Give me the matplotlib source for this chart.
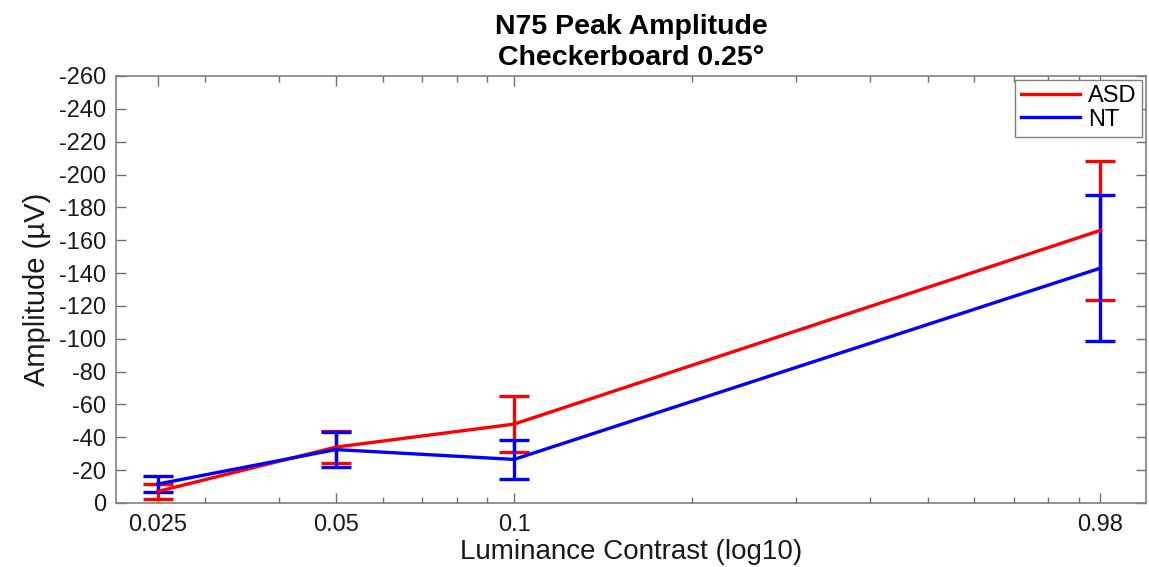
import matplotlib
matplotlib.use('Agg')
import matplotlib.pyplot as plt
from matplotlib.ticker import FixedLocator, NullFormatter

plt.rcParams['font.family'] = ['Liberation Sans', 'DejaVu Sans']
plt.rcParams['axes.unicode_minus'] = False

# contrast levels and N75 amplitude (uV) per group
contrast = [0.025, 0.05, 0.1, 0.98]
asd_mean = [-7, -34, -48, -166]
asd_err = [4.5, 9.5, 17, 42.5]
nt_mean = [-11.5, -32.5, -26.5, -143]
nt_err = [5, 10.5, 11.7, 44.5]

tick_labels = ['0.025', '0.05', '0.1', '0.98']
minor_ticks = [0.03, 0.04, 0.06, 0.07, 0.08, 0.09, 0.2, 0.3, 0.4, 0.5, 0.6, 0.7, 0.8, 0.9]

fig = plt.figure(figsize=(11.49, 5.67), dpi=100)
ax = fig.add_axes([0.101, 0.113, 0.8964, 0.753])

ax.errorbar(contrast, asd_mean, yerr=asd_err, color='#ff0000', lw=2.4,
            capsize=11, capthick=2.4)
ax.errorbar(contrast, nt_mean, yerr=nt_err, color='#0000ff', lw=2.4,
            capsize=11, capthick=2.4)
# plain lines just for the legend
ax.plot([], [], color='#ff0000', lw=2.4, label='ASD')
ax.plot([], [], color='#0000ff', lw=2.4, label='NT')

ax.set_xscale('log')
ax.set_xlim(0.02125, 1.17)
ax.set_xticks(contrast)
ax.set_xticklabels(tick_labels)
ax.xaxis.set_minor_locator(FixedLocator(minor_ticks))
ax.xaxis.set_minor_formatter(NullFormatter())

ax.set_ylim(0, -260)
ax.set_yticks(range(0, -261, -20))

ax.tick_params(which='both', direction='in', top=True, right=True,
               color='#707070', labelsize=17, labelcolor='#1a1a1a')
ax.tick_params(which='major', length=7, width=1)
ax.tick_params(which='minor', length=4, width=1)
ax.tick_params(axis='x', pad=8)
ax.tick_params(axis='y', pad=7)
for s in ax.spines.values():
    s.set_color('#808080')
    s.set_linewidth(1.2)

ax.set_xlabel('Luminance Contrast (log10)', fontsize=20, color='#1a1a1a', labelpad=2)
ax.set_ylabel('Amplitude (µV)', fontsize=21, color='#1a1a1a', labelpad=6)
ax.set_title('N75 Peak Amplitude\nCheckerboard 0.25°', fontsize=20.5,
             fontweight='bold', linespacing=1.25, pad=8)

leg = ax.legend(loc='upper right', fontsize=17, fancybox=False, framealpha=1,
                edgecolor='#808080', handlelength=2.5, borderaxespad=0.15,
                labelspacing=0.05, handletextpad=0.35, borderpad=0.25)
leg.get_frame().set_linewidth(1.0)

fig.savefig('out.png', dpi=100)
